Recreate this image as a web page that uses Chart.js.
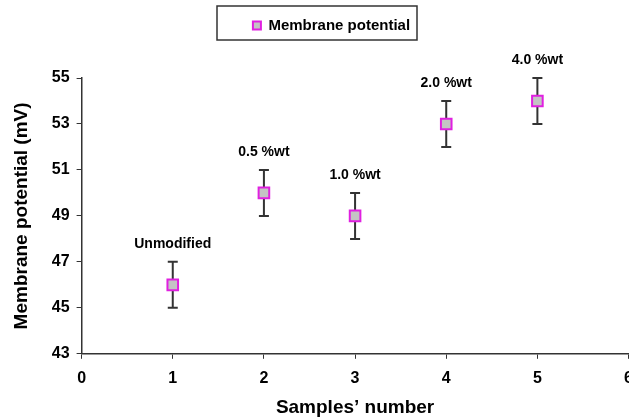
<!DOCTYPE html>
<html>
<head>
<meta charset="utf-8">
<script src="https://cdn.jsdelivr.net/npm/chart.js@4"></script>
<style>
  body { margin: 0; overflow: hidden; background: #fff; }
  #wrap { width: 643px; height: 417px; }
</style>
</head>
<body>
<div id="wrap"><canvas id="myChart"></canvas></div>
<script>
const samples = [1, 2, 3, 4, 5];
const potential = [46, 50, 49, 53, 54];
const errors = [1, 1, 1, 1, 1];
const sampleLabels = ['Unmodified', '0.5 %wt', '1.0 %wt', '2.0 %wt', '4.0 %wt'];

const font = 'Liberation Sans, Arial, sans-serif';

// error bars + labels over each point
const extras = {
  id: 'extras',
  beforeInit(chart) {
    // leave more room under the legend
    const lg = chart.legend;
    const fit = lg.fit;
    lg.fit = function () { fit.call(lg); lg.height += 35; };
  },
  afterLayout(chart) {
    // nudge the legend into its box
    chart.legend.left += 5;
    chart.legend.right += 5;
  },
  beforeDatasetsDraw(chart) {
    const ctx = chart.ctx;
    const xs = chart.scales.x, ys = chart.scales.y;
    ctx.save();
    ctx.strokeStyle = '#333';
    ctx.lineWidth = 2;
    for (let i = 0; i < samples.length; i++) {
      const x = xs.getPixelForValue(samples[i]);
      const top = ys.getPixelForValue(potential[i] + errors[i]);
      const bot = ys.getPixelForValue(potential[i] - errors[i]);
      ctx.beginPath();
      ctx.moveTo(x, top); ctx.lineTo(x, bot);
      ctx.moveTo(x - 5, top); ctx.lineTo(x + 5, top);
      ctx.moveTo(x - 5, bot); ctx.lineTo(x + 5, bot);
      ctx.stroke();
    }
    ctx.restore();
  },
  afterDraw(chart) {
    const ctx = chart.ctx;
    const xs = chart.scales.x, ys = chart.scales.y;
    ctx.save();
    ctx.fillStyle = '#000';
    ctx.font = 'bold 14px ' + font;
    ctx.textAlign = 'center';
    ctx.textBaseline = 'bottom';
    for (let i = 0; i < samples.length; i++) {
      const x = xs.getPixelForValue(samples[i]);
      const top = ys.getPixelForValue(potential[i] + errors[i]);
      ctx.fillText(sampleLabels[i], x, top - 11);
    }
    // box round the legend
    ctx.strokeStyle = '#333';
    ctx.lineWidth = 1.5;
    ctx.strokeRect(217, 6, 200, 34);
    ctx.restore();
  }
};

const config = {
  type: 'scatter',
  data: {
    datasets: [{
      label: 'Membrane potential',
      data: samples.map((s, i) => ({ x: s, y: potential[i] })),
      pointStyle: 'rect',
      pointRadius: 7.5,
      pointHoverRadius: 7.5,
      borderWidth: 2,
      backgroundColor: '#c4c4c4',
      borderColor: '#e020e0'
    }]
  },
  options: {
    responsive: true,
    maintainAspectRatio: false,
    animation: false,
    layout: { padding: { top: 4, left: 10, right: 0, bottom: 0 } },
    plugins: {
      tooltip: { enabled: false },
      legend: {
        display: true,
        labels: {
          usePointStyle: true,
          boxWidth: 8,
          boxHeight: 8,
          padding: 14,
          color: '#000',
          font: { family: font, size: 15, weight: 'bold' }
        }
      }
    },
    scales: {
      x: {
        type: 'linear',
        min: 0, max: 6,
        ticks: { stepSize: 1, color: '#000', padding: 10, font: { family: font, size: 16, weight: 'bold' } },
        grid: { drawOnChartArea: false, drawTicks: true, tickLength: 5, color: '#333' },
        border: { display: true, color: '#333', width: 1.5 },
        title: { display: true, text: 'Samples\u2019 number', color: '#000', padding: { top: 0, bottom: 0 }, font: { family: font, size: 19, weight: 'bold', lineHeight: 1 } }
      },
      y: {
        min: 43, max: 55,
        ticks: { stepSize: 2, color: '#000', padding: 7, font: { family: font, size: 16, weight: 'bold' } },
        grid: { drawOnChartArea: false, drawTicks: true, tickLength: 5, color: '#333' },
        border: { display: true, color: '#333', width: 1.5 },
        title: { display: true, text: 'Membrane potential (mV)', color: '#000', padding: { top: 0, bottom: 12 }, font: { family: font, size: 19, weight: 'bold' } }
      }
    }
  },
  plugins: [extras]
};

const myChart = new Chart(document.getElementById('myChart'), config);
</script>
</body>
</html>
